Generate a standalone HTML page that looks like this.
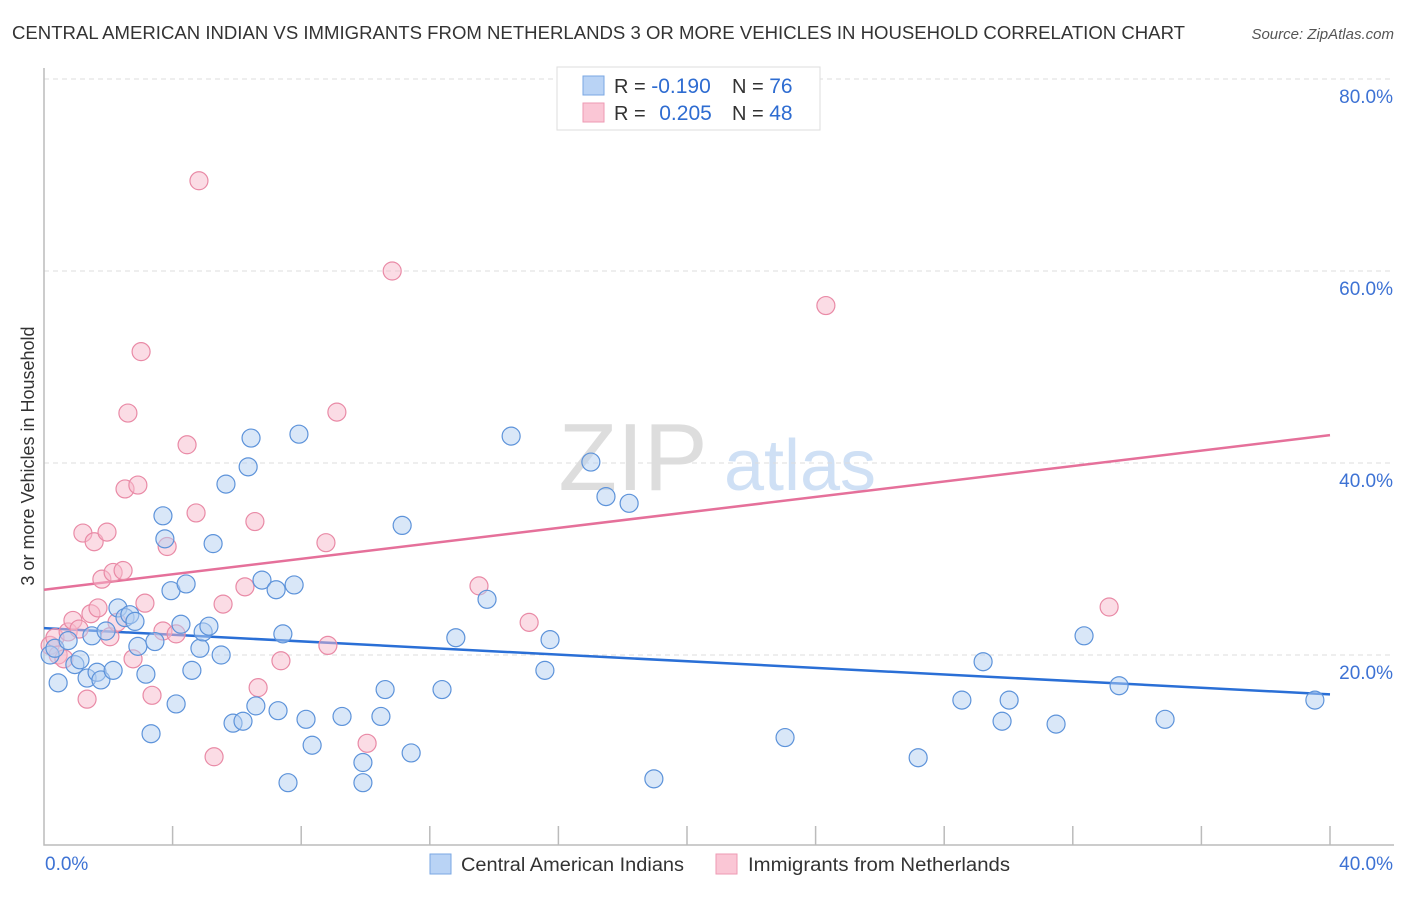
<!DOCTYPE html>
<html><head><meta charset="utf-8"><style>
body{margin:0;background:#fff;font-family:"Liberation Sans",sans-serif;}
svg text{font-family:"Liberation Sans",sans-serif;}
</style></head><body>
<svg id="chart" width="1406" height="892" xmlns="http://www.w3.org/2000/svg">
<text x="12" y="39" font-size="18" fill="#333" textLength="1173" lengthAdjust="spacingAndGlyphs">CENTRAL AMERICAN INDIAN VS IMMIGRANTS FROM NETHERLANDS 3 OR MORE VEHICLES IN HOUSEHOLD CORRELATION CHART</text>
<text x="1394" y="39" font-size="15" fill="#555" text-anchor="end" font-style="italic">Source: ZipAtlas.com</text>
<text transform="translate(34,456) rotate(-90)" font-size="18" fill="#333" text-anchor="middle">3 or more Vehicles in Household</text>
<g>
<text x="633" y="490" font-size="96" fill="#ddd" text-anchor="middle" font-family="Liberation Serif">ZIP</text>
<text x="800" y="490" font-size="72" fill="#cfe0f5" text-anchor="middle">atlas</text>
</g>
<g id="grid"></g><g id="axes"></g><g id="trend"></g><g id="pts"></g>
<g>
<rect x="557" y="67" width="263" height="63" fill="#fff" stroke="#ddd"/>
<rect x="583" y="76" width="21" height="19" fill="#b9d3f5" stroke="#7aa7e3"/>
<rect x="583" y="103" width="21" height="19" fill="#fac6d5" stroke="#ee9ab3"/>
<text x="614" y="93" font-size="20" fill="#333">R = <tspan fill="#2e6cd1" font-size="21">-0.190</tspan></text>
<text x="732" y="93" font-size="20" fill="#333">N = <tspan fill="#2e6cd1" font-size="21">76</tspan></text>
<text x="614" y="120" font-size="20" fill="#333">R = <tspan fill="#2e6cd1" dx="8" font-size="21">0.205</tspan></text>
<text x="732" y="120" font-size="20" fill="#333">N = <tspan fill="#2e6cd1" font-size="21">48</tspan></text>
</g>
<g>
<rect x="430" y="854" width="21" height="20" fill="#b9d3f5" stroke="#7aa7e3"/>
<text x="461" y="871" font-size="19" fill="#333" textLength="223" lengthAdjust="spacingAndGlyphs">Central American Indians</text>
<rect x="716" y="854" width="21" height="20" fill="#fac6d5" stroke="#ee9ab3"/>
<text x="748" y="871" font-size="19" fill="#333" textLength="262" lengthAdjust="spacingAndGlyphs">Immigrants from Netherlands</text>
</g>
</svg>
<script>
const yTicks=[20,40,60,80];
const yTickLabels=["20.0%","40.0%","60.0%","80.0%"];
const xLabels=["0.0%","40.0%"];
const blueX=[0.19,0.34,0.44,0.75,0.96,1.12,1.34,1.49,1.65,1.77,1.93,2.15,2.30,2.52,2.67,2.83,2.92,3.17,3.33,3.45,3.70,3.76,3.95,4.11,4.26,4.42,4.60,4.85,4.95,5.13,5.26,5.51,5.66,5.88,6.19,6.35,6.44,6.59,6.78,7.22,7.28,7.43,7.59,7.78,7.93,8.15,8.34,9.27,9.92,9.92,10.48,10.61,11.14,11.42,12.38,12.81,13.78,14.53,15.58,15.74,17.01,17.48,18.20,18.97,23.05,27.19,28.55,29.21,29.80,30.02,31.48,32.35,33.44,34.87,39.53];
const blueY=[20.0,20.7,17.1,21.5,19.0,19.5,17.6,22.0,18.2,17.4,22.5,18.4,24.9,23.9,24.2,23.5,20.9,18.0,11.8,21.4,34.5,32.1,26.7,14.9,23.2,27.4,18.4,20.7,22.4,23.0,31.6,20.0,37.8,12.9,13.1,39.6,42.6,14.7,27.8,26.8,14.2,22.2,6.7,27.3,43.0,13.3,10.6,13.6,8.8,6.7,13.6,16.4,33.5,9.8,16.4,21.8,25.8,42.8,18.4,21.6,40.1,36.5,35.8,7.1,11.4,9.3,15.3,19.3,13.1,15.3,12.8,22.0,16.8,13.3,15.3];
const pinkX=[0.19,0.34,0.44,0.62,0.75,0.90,1.09,1.21,1.34,1.46,1.56,1.68,1.80,1.96,2.05,2.15,2.27,2.46,2.52,2.61,2.77,2.92,3.02,3.14,3.36,3.70,3.83,4.11,4.45,4.73,4.82,5.29,5.57,6.25,6.56,6.66,7.37,8.77,8.83,9.11,10.05,10.83,13.53,15.09,24.32,33.13];
const pinkY=[21.0,21.8,20.0,19.6,22.4,23.6,22.7,32.7,15.4,24.3,31.8,24.9,27.9,32.8,21.9,28.6,23.4,28.8,37.3,45.2,19.6,37.7,51.6,25.4,15.8,22.5,31.3,22.2,41.9,34.8,69.4,9.4,25.3,27.1,33.9,16.6,19.4,31.7,21.0,45.3,10.8,60.0,27.2,23.4,56.4,25.0];
const blueTrend=[22.8,15.9];
const pinkTrend=[26.8,42.9];
const trendX=[0,40];
const NS="http://www.w3.org/2000/svg";
const X=v=>44+v*32.15, Y=v=>847-v*9.6;
function mk(tag,attrs,parent){const e=document.createElementNS(NS,tag);for(const k in attrs)e.setAttribute(k,attrs[k]);parent.appendChild(e);return e;}
const grid=document.getElementById('grid'),axes=document.getElementById('axes'),trend=document.getElementById('trend'),pts=document.getElementById('pts');
yTicks.forEach((t,i)=>{
 const l=mk('line',{x1:44,x2:1394,y1:Y(t),y2:Y(t),stroke:'#ddd','stroke-dasharray':'5,4'},grid);
 
 
 const tx=mk('text',{x:1393,y:Y(t)+24,'font-size':19,fill:'#3d72d4','text-anchor':'end'},axes);
 tx.textContent=yTickLabels[i];
 
 
});
const ax=mk('path',{d:'M44 68 V845 H1394',fill:'none',stroke:'#bbb','stroke-width':1.5},axes);


for(let i=1;i<=10;i++){
 const t=mk('line',{x1:X(i*4),x2:X(i*4),y1:826,y2:845,stroke:'#bbb','stroke-width':1.5},axes);
 
 
}
[[0,'start',45],[40,'end',1393]].forEach((a,i)=>{
 const t=mk('text',{x:a[2],y:870,'font-size':19,fill:'#3d72d4','text-anchor':a[1]},axes);
 t.textContent=xLabels[i];
 
 
});
function pointsOf(xs,ys,fill,stroke,name){
 xs.forEach((x,i)=>{
  const c=mk('circle',{cx:X(x),cy:Y(ys[i]),r:9,fill:fill,'fill-opacity':0.5,stroke:stroke,'stroke-width':1.2},pts);
  
  
 });
}
pointsOf(pinkX,pinkY,'#f7b9cb','#e98aa6','pink-point');
pointsOf(blueX,blueY,'#b3cff2','#5d93da','blue-point');
const bl=mk('line',{x1:X(trendX[0]),y1:Y(blueTrend[0]),x2:X(trendX[1]),y2:Y(blueTrend[1]),stroke:'#2a6fd6','stroke-width':2.5},trend);


const pl=mk('line',{x1:X(trendX[0]),y1:Y(pinkTrend[0]),x2:X(trendX[1]),y2:Y(pinkTrend[1]),stroke:'#e5709a','stroke-width':2.5},trend);


</script>
</body></html>
